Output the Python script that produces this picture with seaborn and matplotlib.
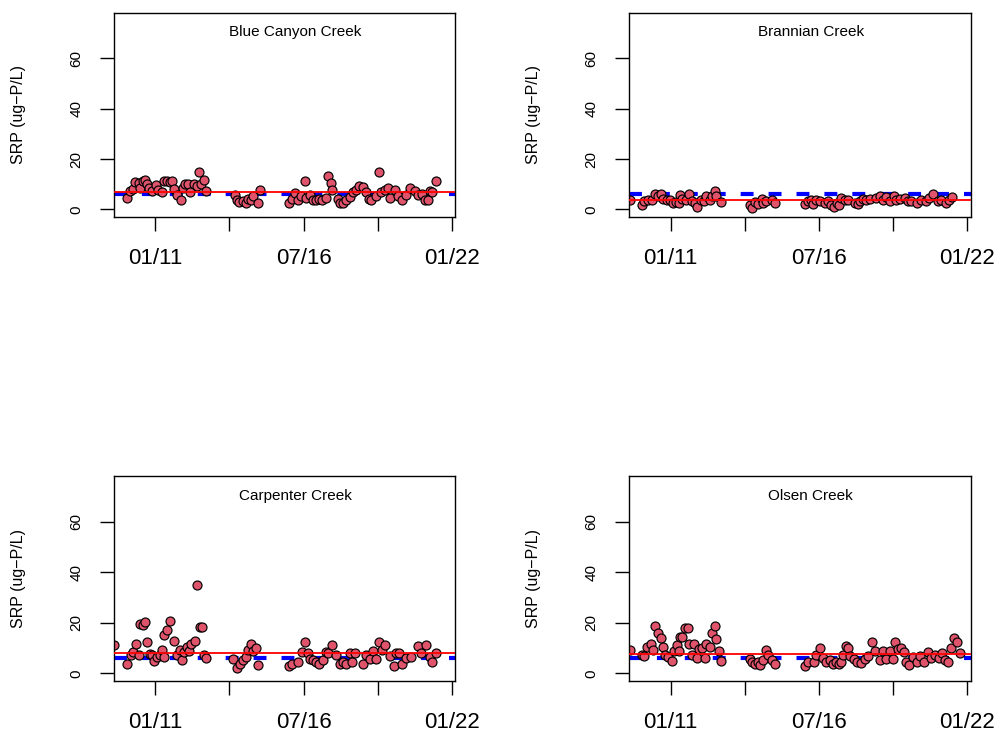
import matplotlib as mpl
import matplotlib.pyplot as plt
import seaborn as sns
import numpy as np
import pandas as pd

mpl.use('agg')

'''SRP time series for four creeks, with site mean (red) and reference level (blue)'''

# Creek names, in panel order
creeks = ['Blue Canyon Creek', 'Brannian Creek', 'Carpenter Creek', 'Olsen Creek']

# Sample dates as decimal years, and SRP (ug-P/L)
blue_canyon_year = [2009.96, 2010.05, 2010.17, 2010.26, 2010.38, 2010.44, 2010.54, 2010.63, 2010.69, 2010.78,
                    2010.88, 2011.03, 2011.12, 2011.25, 2011.33, 2011.43, 2011.53, 2011.63, 2011.70, 2011.80,
                    2011.95, 2012.03, 2012.11, 2012.23, 2012.30, 2012.42, 2012.54, 2012.64, 2012.70, 2012.81,
                    2012.89,
                    2013.96, 2014.02, 2014.12, 2014.25, 2014.37, 2014.45, 2014.54, 2014.63, 2014.82, 2014.89,
                    2015.97, 2016.06, 2016.18, 2016.28, 2016.40, 2016.55, 2016.61, 2016.74, 2016.84, 2016.96,
                    2017.08, 2017.20, 2017.33, 2017.41, 2017.51, 2017.57, 2017.78, 2017.85, 2017.97, 2018.09,
                    2018.22, 2018.34, 2018.44, 2018.56, 2018.71, 2018.81, 2018.93, 2019.02, 2019.20, 2019.30,
                    2019.39, 2019.51, 2019.63, 2019.72, 2019.88, 2020.00, 2020.16, 2020.31, 2020.46, 2020.62,
                    2020.74, 2020.90, 2020.99, 2021.11, 2021.20, 2021.27, 2021.40]
blue_canyon_srp = [4.6, 7.2, 8.2, 10.8, 10.5, 8.6, 11.2, 11.6, 9.9, 8.6,
                   7.2, 9.5, 7.6, 6.8, 11.2, 11.4, 10.8, 11.4, 8.2, 5.9,
                   3.6, 8.6, 9.9, 9.9, 6.8, 10.1, 9.2, 14.7, 9.9, 11.8,
                   7.2,
                   5.9, 3.9, 2.9, 3.3, 2.4, 4.2, 3.9, 5.3, 2.4, 7.6,
                   2.4, 4.2, 6.6, 3.9, 5.3, 11.2, 4.6, 5.9, 3.9, 3.9,
                   4.2, 3.9, 4.6, 13.1, 10.5, 7.6, 4.2, 2.4, 2.6, 3.9,
                   5.0, 6.8, 7.6, 9.2, 9.0, 6.8, 4.2, 3.9, 5.3, 14.9,
                   6.8, 7.6, 8.6, 4.6, 7.6, 5.5, 3.7, 5.9, 8.6, 7.2,
                   5.9, 6.3, 3.7, 3.9, 7.2, 6.8, 11.2]

brannian_year = [2009.49, 2009.93, 2010.01, 2010.17, 2010.30, 2010.42, 2010.52, 2010.63, 2010.73, 2010.85,
                 2010.97, 2011.10, 2011.19, 2011.31, 2011.34, 2011.44, 2011.57, 2011.69, 2011.78, 2011.90,
                 2011.98, 2012.11, 2012.23, 2012.33, 2012.45, 2012.55, 2012.64, 2012.70, 2012.85,
                 2013.96, 2014.03, 2014.12, 2014.24, 2014.37, 2014.43, 2014.55, 2014.74, 2014.86,
                 2015.97, 2016.09, 2016.19, 2016.28, 2016.40, 2016.55, 2016.71, 2016.83, 2016.96, 2017.04,
                 2017.17, 2017.24, 2017.33, 2017.45, 2017.57, 2017.82, 2017.94, 2018.03, 2018.13, 2018.25,
                 2018.40, 2018.62, 2018.75, 2018.87, 2018.99, 2019.14, 2019.26, 2019.36, 2019.49, 2019.67,
                 2019.79, 2019.92, 2020.13, 2020.29, 2020.45, 2020.57, 2020.72, 2020.90, 2021.03, 2021.21,
                 2021.33, 2021.43]
brannian_srp = [3.9, 1.7, 3.3, 3.9, 3.9, 6.2, 5.3, 6.2, 4.2, 3.9,
                3.6, 2.4, 3.0, 2.4, 5.9, 4.2, 3.9, 6.3, 3.3, 2.6,
                1.1, 3.9, 3.3, 5.3, 3.9, 5.3, 7.2, 5.5, 2.9,
                1.6, 0.7, 2.9, 2.0, 4.2, 2.4, 3.3, 3.9, 2.6,
                2.0, 3.3, 3.9, 2.0, 3.7, 3.3, 2.6, 3.3, 1.6, 1.1,
                2.4, 1.6, 4.6, 3.9, 3.9, 2.6, 2.0, 3.3, 4.2, 3.7,
                4.2, 4.6, 5.3, 3.9, 5.0, 3.3, 5.3, 3.9, 4.2, 4.6,
                3.3, 3.3, 2.6, 3.9, 3.3, 4.6, 6.3, 3.3, 3.9, 2.6,
                3.7, 5.0]

carpenter_year = [2009.48, 2009.95, 2010.10, 2010.17, 2010.29, 2010.38, 2010.44, 2010.54, 2010.63, 2010.69,
                  2010.79, 2010.88, 2010.96, 2011.06, 2011.16, 2011.25, 2011.31, 2011.34, 2011.43, 2011.53,
                  2011.70, 2011.80, 2011.90, 2011.99, 2012.07, 2012.17, 2012.27, 2012.32, 2012.48, 2012.54,
                  2012.67, 2012.73, 2012.81, 2012.89,
                  2013.90, 2014.02, 2014.15, 2014.25, 2014.37, 2014.45, 2014.54, 2014.64, 2014.74, 2014.82,
                  2015.97, 2016.09, 2016.28, 2016.43, 2016.55, 2016.68, 2016.74, 2016.86, 2016.98, 2017.08,
                  2017.23, 2017.33, 2017.41, 2017.54, 2017.72, 2017.85, 2017.97, 2018.09, 2018.22, 2018.31,
                  2018.40, 2018.71, 2018.83, 2018.96, 2019.08, 2019.20, 2019.30, 2019.43, 2019.51, 2019.70,
                  2019.85, 2019.94, 2020.04, 2020.16, 2020.31, 2020.50, 2020.74, 2020.87, 2021.05, 2021.18,
                  2021.27, 2021.40]
carpenter_srp = [11.2, 3.7, 7.2, 8.5, 11.8, 7.2, 19.7, 19.1, 20.4, 12.5,
                 7.6, 7.2, 5.0, 6.6, 7.2, 9.2, 6.6, 15.1, 17.1, 20.8,
                 12.9, 7.2, 9.2, 5.3, 8.5, 10.5, 8.9, 11.8, 12.9, 35.1,
                 18.4, 18.2, 7.2, 5.9,
                 5.5, 2.0, 3.7, 5.3, 6.6, 9.2, 11.8, 8.9, 9.9, 3.3,
                 2.9, 3.9, 4.6, 8.5, 12.5, 8.1, 5.5, 5.3, 4.6, 3.9,
                 5.3, 8.5, 8.1, 11.2, 7.2, 3.7, 4.6, 3.7, 7.9, 4.6,
                 8.1, 3.7, 7.2, 5.5, 8.9, 5.5, 12.5, 9.2, 11.2, 6.8,
                 2.9, 8.1, 8.1, 3.7, 5.9, 6.6, 10.8, 7.9, 11.2, 6.6,
                 4.6, 8.1]

olsen_year = [2009.49, 2009.93, 2010.01, 2010.11, 2010.26, 2010.36, 2010.44, 2010.54, 2010.64, 2010.73,
              2010.81, 2010.91, 2011.04, 2011.12, 2011.22, 2011.31, 2011.34, 2011.44, 2011.53, 2011.63,
              2011.69, 2011.78, 2011.87, 2011.96, 2012.06, 2012.17, 2012.27, 2012.33, 2012.45, 2012.52,
              2012.64, 2012.70, 2012.80, 2012.86,
              2013.93, 2014.02, 2014.12, 2014.24, 2014.33, 2014.43, 2014.52, 2014.61, 2014.74, 2014.86,
              2015.97, 2016.09, 2016.30, 2016.40, 2016.55, 2016.65, 2016.75, 2016.90, 2017.00, 2017.12,
              2017.24, 2017.33, 2017.39, 2017.49, 2017.58, 2017.66, 2017.79, 2017.91, 2018.07, 2018.19,
              2018.31, 2018.48, 2018.56, 2018.75, 2018.87, 2018.99, 2019.12, 2019.24, 2019.30, 2019.42,
              2019.55, 2019.65, 2019.71, 2019.83, 2019.98, 2020.13, 2020.23, 2020.38, 2020.53, 2020.66,
              2020.78, 2020.94, 2021.07, 2021.15, 2021.27, 2021.40, 2021.50, 2021.60, 2021.72]
olsen_srp = [9.2, 7.2, 6.8, 10.5, 11.8, 9.2, 18.7, 16.0, 13.8, 10.3,
             7.2, 6.6, 5.0, 8.9, 11.2, 8.9, 14.5, 14.5, 17.8, 18.0,
             11.8, 7.2, 11.6, 5.9, 9.5, 9.9, 5.9, 11.8, 10.5, 15.8,
             18.7, 13.5, 8.9, 5.0,
             5.5, 4.6, 3.7, 4.6, 3.3, 5.3, 9.2, 7.2, 5.3, 3.9,
             2.9, 4.6, 4.6, 7.2, 9.9, 5.9, 4.6, 5.3, 3.7, 4.6,
             3.9, 4.6, 7.2, 10.8, 9.9, 6.8, 5.5, 4.6, 4.2, 5.5,
             6.8, 12.5, 8.9, 5.3, 8.9, 5.5, 8.9, 5.5, 12.5, 9.5,
             9.9, 8.5, 4.6, 3.3, 6.6, 4.6, 6.8, 4.6, 8.5, 5.9,
             7.2, 5.9, 8.1, 5.3, 4.6, 9.9, 13.8, 12.5, 8.1]

# Site mean (red line) and reference level (blue dashed line)
site_mean = [7.0, 3.9, 7.9, 7.5]
reference_level = [6.0, 6.0, 6.0, 6.0]

# Axis ticks
xtick_years = [2011.0, 2013.75, 2016.5, 2019.25, 2022.0]
xtick_labels = ['01/11', '', '07/16', '', '01/22']
ytick_values = [0, 20, 40, 60]

## Main
# Long dataframe for plotting
years = [blue_canyon_year, brannian_year, carpenter_year, olsen_year]
srps = [blue_canyon_srp, brannian_srp, carpenter_srp, olsen_srp]
srp_df = pd.concat([pd.DataFrame({'Creek': creek, 'Year': yr, 'SRP': srp})
                    for creek, yr, srp in zip(creeks, years, srps)]).reset_index(drop=True)

sns.set_style('white')
plt.rcParams['font.family'] = ['Liberation Sans', 'DejaVu Sans']
plt.rcParams['text.color'] = 'black'
plt.rcParams['axes.labelcolor'] = 'black'
plt.rcParams['xtick.color'] = 'black'
plt.rcParams['ytick.color'] = 'black'

fig = plt.figure(figsize=(10, 7.37), dpi=100)

# Panel positions [left, bottom, width, height] in figure fraction
positions = [
    [0.114, 0.7056, 0.341, 0.2768],
    [0.6293, 0.7056, 0.3414, 0.2768],
    [0.114, 0.076, 0.341, 0.278],
    [0.6293, 0.076, 0.3414, 0.278],
]

for i, creek in enumerate(creeks):
    ax = fig.add_axes(positions[i])

    # Reference level under the points
    ax.axhline(reference_level[i], color='#0000ff', linewidth=3,
               linestyle=(0, (3.1, 3.6)), zorder=1)

    sns.scatterplot(
        data=srp_df.loc[srp_df['Creek'] == creek],
        x='Year',
        y='SRP',
        color='#df536b',
        edgecolor='black',
        linewidth=0.85,
        s=42,
        zorder=2,
        legend=False,
        ax=ax
    )

    # Site mean on top
    ax.axhline(site_mean[i], color='#ff0000', linewidth=1.3, zorder=3)

    ax.set_xlim(2009.47, 2022.12)
    ax.set_ylim(-3, 78)
    ax.set_xticks(xtick_years)
    ax.set_xticklabels(xtick_labels, size=16)
    ax.set_yticks(ytick_values)
    ax.set_yticklabels([str(v) for v in ytick_values], size=11, rotation=90, va='center')
    ax.tick_params(axis='both', direction='out', length=10, width=1, color='black',
                   labelcolor='black', left=True, bottom=True)
    ax.tick_params(axis='x', pad=12)
    ax.tick_params(axis='y', pad=12)

    ax.set_xlabel('')
    ax.set_ylabel('SRP (ug\u2212P/L)', size=11.5, color='black')
    ax.yaxis.label.set_va('center')
    ax.yaxis.set_label_coords(-0.28, 0.5)

    for spine in ax.spines.values():
        spine.set_visible(True)
        spine.set_color('black')
        spine.set_linewidth(1)

    ax.text(0.531, 0.905, creek, transform=ax.transAxes, ha='center', va='center',
            size=11, color='black')

fig.savefig('out.png', format='png', dpi=100)
